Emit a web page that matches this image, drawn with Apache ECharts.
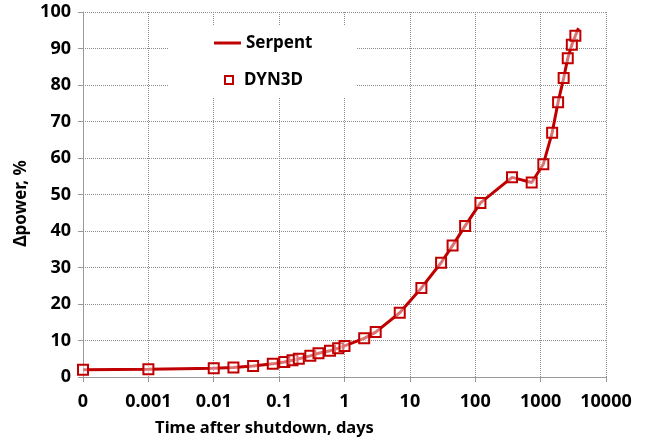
<!DOCTYPE html>
<html>
<head>
<meta charset="utf-8">
<script src="https://cdn.jsdelivr.net/npm/echarts@6/dist/echarts.min.js"></script>
<style>
html,body{margin:0;padding:0;background:#fff;}
#chart{width:646px;height:442px;}
</style>
</head>
<body>
<div id="chart"></div>
<script>
// Time after shutdown, days (0 is drawn at the axis origin)
var dynTimes = [0, 0.001, 0.01, 0.02, 0.04, 0.08, 0.12, 0.16, 0.2, 0.3, 0.4, 0.6, 0.8, 1, 2, 3, 7, 15, 30, 45, 70, 120, 365, 730, 1100, 1500, 1850, 2250, 2600, 3000, 3400];
var dynPower = [2.0, 2.1, 2.4, 2.6, 3.0, 3.6, 4.1, 4.6, 5.0, 5.8, 6.5, 7.2, 7.9, 8.5, 10.6, 12.3, 17.6, 24.4, 31.3, 36.0, 41.4, 47.7, 54.7, 53.3, 58.3, 66.9, 75.3, 81.9, 87.3, 91.0, 93.5];
var serpentTimes = [0, 0.001, 0.01, 0.02, 0.04, 0.08, 0.12, 0.16, 0.2, 0.3, 0.4, 0.6, 0.8, 1, 2, 3, 7, 15, 30, 45, 70, 120, 365, 730, 1100, 1500, 1850, 2250, 2600, 3000, 3400, 3800];
var serpentPower = [2.0, 2.1, 2.4, 2.6, 3.0, 3.6, 4.1, 4.6, 5.0, 5.8, 6.5, 7.2, 7.9, 8.5, 10.6, 12.3, 17.6, 24.4, 31.3, 36.0, 41.4, 47.7, 54.7, 53.3, 58.3, 66.9, 75.3, 81.9, 87.3, 91.0, 93.5, 95.6];
var xTickLabels = ['0', '0.001', '0.01', '0.1', '1', '10', '100', '1000', '10000'];
var yTicks = [0, 10, 20, 30, 40, 50, 60, 70, 80, 90, 100];

var X_MIN = 0.0001, X_MAX = 10000;
function toAxis(t) { return t <= 0 ? X_MIN : t; }
function pairs(xs, ys) { return xs.map(function (x, i) { return [toAxis(x), ys[i]]; }); }

var RED = '#C00000';
var FONT = 'Noto Sans';
var chart = echarts.init(document.getElementById('chart'), null, {renderer: 'canvas'});
chart.setOption({
  animation: false,
  backgroundColor: '#fff',
  grid: {left: 83, right: 40, top: 12, bottom: 64, containLabel: false},
  xAxis: {
    type: 'log',
    logBase: 10,
    min: X_MIN,
    max: X_MAX,
    splitNumber: 8,
    name: 'Time after shutdown, days',
    nameLocation: 'middle',
    nameGap: 43,
    nameTextStyle: {fontFamily: FONT, fontWeight: 'bold', fontSize: 16.5, color: '#000', padding: [0, 160, 0, 0]},
    axisLine: {show: true, lineStyle: {color: '#999', width: 1}},
    axisTick: {show: true, inside: false, length: 5, lineStyle: {color: '#999'}},
    axisLabel: {
      margin: 16,
      fontFamily: FONT, fontWeight: 'bold', fontSize: 18, color: '#000',
      formatter: function (v) {
        var idx = Math.round(Math.log10(v) - Math.log10(X_MIN));
        return xTickLabels[idx] !== undefined ? xTickLabels[idx] : '';
      }
    },
    splitLine: {show: true, lineStyle: {color: '#8c8c8c', type: 'dotted', width: 1}},
    minorTick: {show: false}
  },
  yAxis: {
    type: 'value',
    min: yTicks[0],
    max: yTicks[yTicks.length - 1],
    interval: yTicks[1] - yTicks[0],
    name: 'Δpower, %',
    nameLocation: 'middle',
    nameGap: 47,
    nameTextStyle: {fontFamily: FONT, fontWeight: 'bold', fontSize: 17, color: '#000', padding: [0, 18, 0, 0]},
    axisLine: {show: true, lineStyle: {color: '#999', width: 1}},
    axisTick: {show: true, inside: false, length: 5, lineStyle: {color: '#999'}},
    axisLabel: {margin: 12, fontFamily: FONT, fontWeight: 'bold', fontSize: 18, color: '#000'},
    splitLine: {show: true, lineStyle: {color: '#8c8c8c', type: 'dotted', width: 1}}
  },
  legend: [
    {
      data: [{name: 'Serpent', icon: 'rect', itemStyle: {color: RED, borderWidth: 0}}],
      orient: 'vertical',
      left: 168, top: 25,
      padding: [8, 44, 44, 46],
      backgroundColor: '#fff',
      itemWidth: 27, itemHeight: 3,
      textStyle: {fontFamily: FONT, fontWeight: 'bold', fontSize: 17, color: '#000', lineHeight: 20},
      selectedMode: false
    },
    {
      data: [{name: 'DYN3D', icon: 'rect', itemStyle: {color: '#fff', borderColor: RED, borderWidth: 2}}],
      orient: 'vertical',
      left: 224, top: 70,
      padding: 0,
      itemWidth: 8, itemHeight: 8,
      textStyle: {fontFamily: FONT, fontWeight: 'bold', fontSize: 17, color: '#000', lineHeight: 20, padding: [0, 0, 0, 6]},
      selectedMode: false
    }
  ],
  series: [
    {
      name: 'Serpent',
      type: 'line',
      data: pairs(serpentTimes, serpentPower),
      showSymbol: false,
      symbol: 'none',
      lineStyle: {color: RED, width: 3},
      itemStyle: {color: RED},
      z: 2
    },
    {
      name: 'DYN3D',
      type: 'line',
      data: pairs(dynTimes, dynPower),
      symbol: 'rect',
      symbolSize: 10,
      showSymbol: true,
      lineStyle: {width: 0, opacity: 0},
      itemStyle: {color: 'rgba(255,255,255,0.45)', borderColor: RED, borderWidth: 2},
      z: 3
    }
  ]
});
</script>
</body>
</html>
